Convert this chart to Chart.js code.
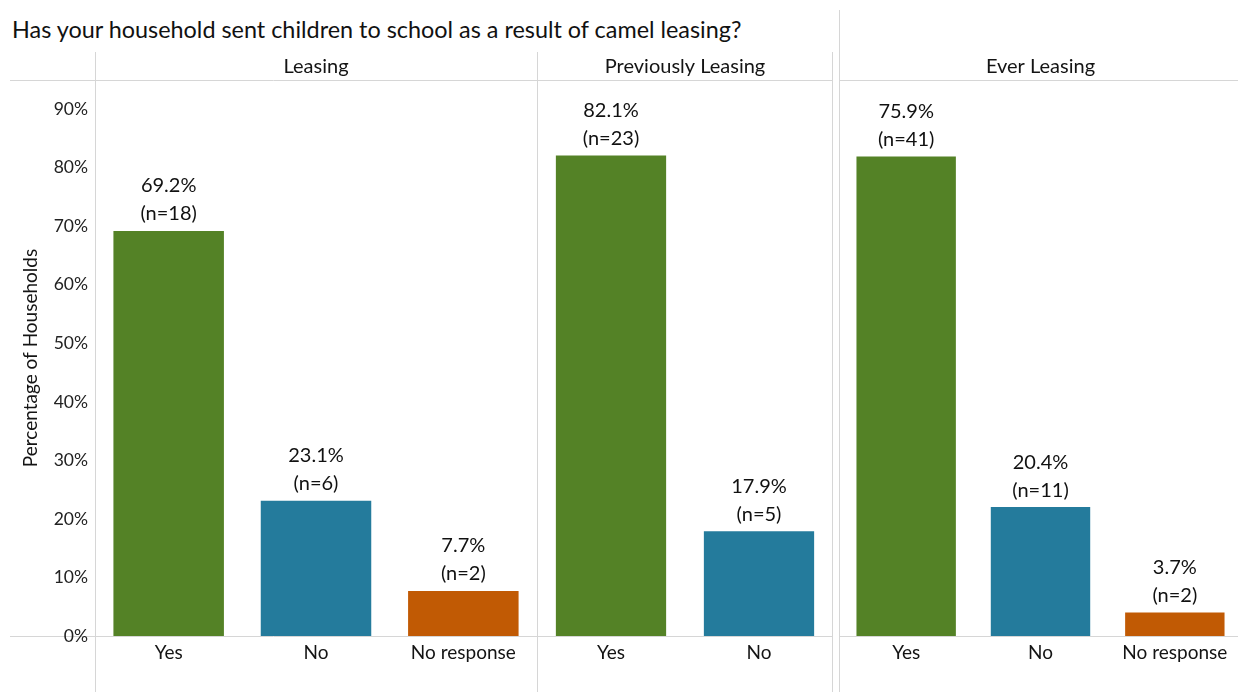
<!DOCTYPE html>
<html>
<head>
<meta charset="utf-8">
<title>Camel leasing and schooling</title>
<script src="https://cdn.jsdelivr.net/npm/chart.js@4.4.1/dist/chart.umd.min.js"></script>
<style>
body { margin: 0; background: #fff; }
#wrap { position: relative; width: 1238px; height: 692px; overflow: hidden; font-family: Lato, sans-serif; }
#title { position: absolute; left: 12px; top: 18px; font-size: 23.4px; line-height: 1; color: #111; white-space: nowrap; }
canvas { position: absolute; top: 0; }
</style>
</head>
<body>
<div id="wrap">
  <div id="title">Has your household sent children to school as a result of camel leasing?</div>
  <canvas id="c1" width="537" height="692" style="left:0"></canvas>
  <canvas id="c2" width="296" height="692" style="left:537px"></canvas>
  <canvas id="c3" width="403" height="692" style="left:839px"></canvas>
</div>
<script>
// survey answers, one set of arrays per group
const leasingCats = ['Yes', 'No', 'No response']
const leasingPct = [69.2, 23.1, 7.7]
const leasingN = [18, 6, 2]

const prevCats = ['Yes', 'No']
const prevPct = [82.1, 17.9]
const prevN = [23, 5]

const everCats = ['Yes', 'No', 'No response']
const everPct = [75.9, 20.4, 3.7]
const everN = [41, 11, 2]

const yTicks = [0, 10, 20, 30, 40, 50, 60, 70, 80, 90]

const answerColors = { 'Yes': '#548226', 'No': '#247b9c', 'No response': '#c15a04' }
const lineColor = '#d6d6d6'
const textColor = '#141414'

Chart.defaults.font.family = 'Lato, sans-serif'
Chart.defaults.color = textColor

// panel header, frame lines and the two-line value labels
const panelDeco = {
  id: 'panelDeco',
  beforeDraw(chart, args, o) {
    const { ctx, chartArea: a, width, height } = chart
    ctx.save()
    ctx.strokeStyle = lineColor
    ctx.lineWidth = 1
    ctx.beginPath()
    ctx.moveTo(o.lineStart, a.top + 0.5); ctx.lineTo(width, a.top + 0.5)
    ctx.moveTo(o.lineStart, a.bottom + 0.5); ctx.lineTo(width, a.bottom + 0.5)
    ctx.moveTo(a.left + 0.5, o.vTop); ctx.lineTo(a.left + 0.5, height)
    if (o.rightEdge) {
      ctx.moveTo(width - 0.5, 52); ctx.lineTo(width - 0.5, height)
    }
    ctx.stroke()
    ctx.fillStyle = textColor
    ctx.font = '20px Lato, sans-serif'
    ctx.textAlign = 'center'
    ctx.textBaseline = 'middle'
    ctx.fillText(o.header, (a.left + a.right) / 2, 67)
    ctx.restore()
  },
  afterDatasetsDraw(chart, args, o) {
    const { ctx } = chart
    const ds = chart.data.datasets[0]
    ctx.save()
    ctx.fillStyle = '#111'
    ctx.font = '20px Lato, sans-serif'
    ctx.textAlign = 'center'
    ctx.textBaseline = 'middle'
    chart.getDatasetMeta(0).data.forEach((bar, i) => {
      ctx.fillText(ds.data[i].toFixed(1) + '%', bar.x, bar.y - 45)
      ctx.fillText('(n=' + o.counts[i] + ')', bar.x, bar.y - 17)
    })
    ctx.restore()
  }
}

function makePanel(id, header, cats, pct, counts, opts) {
  return new Chart(document.getElementById(id), {
    type: 'bar',
    data: {
      labels: cats,
      datasets: [{
        data: pct,
        backgroundColor: cats.map(c => answerColors[c]),
        barPercentage: opts.barPct,
        categoryPercentage: 1
      }]
    },
    plugins: [panelDeco],
    options: {
      responsive: false,
      animation: false,
      layout: { padding: { top: 80, left: 0, right: 0, bottom: 0 } },
      plugins: {
        legend: { display: false },
        tooltip: { enabled: false },
        panelDeco: { header: header, counts: counts, lineStart: opts.lineStart, vTop: opts.vTop, rightEdge: opts.rightEdge }
      },
      scales: {
        x: {
          grid: { display: false },
          border: { display: false },
          ticks: { padding: -3, font: { size: 19 }, color: textColor },
          afterFit(s) { s.height = 56 }
        },
        y: {
          display: opts.showAxis,
          min: 0,
          max: opts.yMax,
          grid: { display: false, drawTicks: false },
          border: { display: false },
          afterBuildTicks(s) { s.ticks = yTicks.map(v => ({ value: v })) },
          ticks: { padding: 7, font: { size: 17.5 }, color: '#222', callback: v => v + '%' },
          title: { display: opts.showAxis, text: 'Percentage of Households', font: { size: 19 }, color: textColor, padding: { top: 19, bottom: 0 } },
          afterFit(s) { if (opts.showAxis) s.width = 95 }
        }
      }
    }
  })
}

makePanel('c1', 'Leasing', leasingCats, leasingPct, leasingN,
  { showAxis: true, yMax: 95, barPct: 0.75, lineStart: 10, vTop: 52, rightEdge: false })
makePanel('c2', 'Previously Leasing', prevCats, prevPct, prevN,
  { showAxis: false, yMax: 95, barPct: 0.745, lineStart: 0, vTop: 52, rightEdge: true })
makePanel('c3', 'Ever Leasing', everCats, everPct, everN,
  { showAxis: false, yMax: 88, barPct: 0.74, lineStart: 0, vTop: 10, rightEdge: false })
</script>
</body>
</html>
